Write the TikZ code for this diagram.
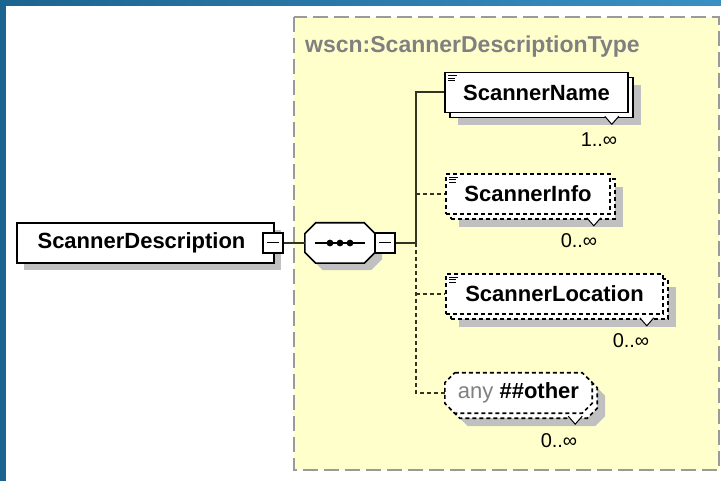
\documentclass[tikz,border=0pt]{standalone}
\usepackage{fontspec}
\newfontfamily\arial{Liberation Sans}
\definecolor{yel}{HTML}{FFFFCC}
\definecolor{bord}{HTML}{9A9A9A}
\definecolor{shad}{HTML}{C0C0C0}
\definecolor{blueA}{HTML}{1C6490}
\definecolor{blueB}{HTML}{3A90C4}
\definecolor{lin}{HTML}{333322}
\definecolor{typegray}{HTML}{808080}
\newcommand\octo[3]{% node name, chamfer, draw options
  \path[#3] ([xshift=#2]#1.north west) -- ([xshift=-#2]#1.north east) -- ([yshift=-#2]#1.north east)
   -- ([yshift=#2]#1.south east) -- ([xshift=-#2]#1.south east) -- ([xshift=#2]#1.south west)
   -- ([yshift=#2]#1.south west) -- ([yshift=-#2]#1.north west) -- cycle;}
\begin{document}
\begin{tikzpicture}[x=1pt,y=-1pt,
  every node/.style={font=\arial},
  ebox/.style={draw=black, line width=1.6pt, fill=white, inner sep=0pt, minimum height=40pt},
  eboxd/.style={ebox, dash pattern=on 4pt off 3pt},
  frame/.style={draw=none, fill=none, inner sep=0pt, minimum height=40pt},
  solidline/.style={draw=black, line width=1.6pt, fill=white},
  dashline/.style={solidline, dash pattern=on 4pt off 3pt},
  shadowfill/.style={fill=shad, draw=none},
  shadowbox/.style={fill=shad, draw=none, inner sep=0pt, minimum height=40pt},
  ename/.style={font=\arial\bfseries\fontsize{22}{24}\selectfont},
  mult/.style={font=\arial\fontsize{20}{22}\selectfont, anchor=base, inner sep=0pt},
  conn/.style={draw=lin, line width=2pt},
  connd/.style={conn, dash pattern=on 4pt off 3pt},
  mbox/.style={draw=black, line width=1.6pt, fill=white, minimum size=20pt, inner sep=0pt},
  chev/.style={draw=black, line width=1pt, fill=white},
  icon/.style={draw=black, line width=0.8pt},
]
\useasboundingbox (0,0) rectangle (721,481);
\fill[white] (0,0) rectangle (721,481);
\shade[left color=blueA, right color=blueB] (0,0) rectangle (721,6);
\fill[blueA] (0,0) rectangle (6,481);
% type container
\draw[bord, fill=yel, line width=1.6pt, dash pattern=on 15pt off 6pt] (294,17) rectangle (719,470);
\node[anchor=base west, inner sep=0pt, text=typegray, font=\arial\bfseries\fontsize{23}{25}\selectfont] (tl) at (305,52.5) {wscn:ScannerDescriptionType};

% ScannerDescription
\fill[shad] (24,230) rectangle (281,270);
\node[ebox, minimum width=257pt] (sd) at (145.5,243) {};
\node[ename, inner sep=0pt] (sdt) at (141.5,243) {ScannerDescription};
\node[mbox] (sdm) at (273,243) {};
\draw[line width=1pt] ([xshift=-6pt]sdm.center) -- ([xshift=6pt]sdm.center);

% sequence compositor
\node[frame, minimum width=70pt] (seqs) at (347,250) {};
\node[frame, minimum width=70pt] (seq) at (340,243) {};
\octo{seqs}{11pt}{shadowfill}
\octo{seq}{11pt}{solidline}
\draw[line width=1.4pt] ([xshift=-25pt]seq.center) -- ([xshift=25pt]seq.center);
\foreach \dx in {-10,0,10} \fill ([xshift=\dx pt]seq.center) circle (3.4pt);
\node[mbox] (seqm) at (385,243) {};
\draw[line width=1pt] ([xshift=-6pt]seqm.center) -- ([xshift=6pt]seqm.center);

% bus coordinates
\coordinate (b1) at (416,92.5);
\coordinate (bm) at (416,243);
\coordinate (b2) at (416,194);
\coordinate (b3) at (416,294);
\coordinate (b4) at (416,393);

% ScannerName (1..inf)
\node[shadowbox, minimum width=183pt] (n1s) at (549.5,105.5) {};
\node[ebox, minimum width=183pt] (n1b) at (541.5,97.5) {};
\node[ebox, minimum width=183pt, ename] (n1) at (536.5,92.5) {ScannerName};
\draw[chev] ([xshift=-29pt,yshift=2pt]n1b.south east) -- ([xshift=-22pt,yshift=-6pt]n1b.south east) -- ([xshift=-15pt,yshift=2pt]n1b.south east);
\foreach \dy/\w in {4/9,6.5/7,9/7} \draw[icon] ([xshift=4pt,yshift=-\dy pt]n1.north west) -- ++(\w,0);
\node[mult] (m1) at (599,147) {1..∞};

% ScannerInfo (0..inf)
\node[shadowbox, minimum width=164pt] (n2s) at (541,207) {};
\node[eboxd, minimum width=164pt] (n2b) at (533,199) {};
\node[eboxd, minimum width=164pt, ename] (n2) at (528,194) {ScannerInfo};
\draw[chev] ([xshift=-29pt,yshift=2pt]n2b.south east) -- ([xshift=-22pt,yshift=-6pt]n2b.south east) -- ([xshift=-15pt,yshift=2pt]n2b.south east);
\foreach \dy/\w in {4/9,6.5/7,9/7} \draw[icon] ([xshift=4pt,yshift=-\dy pt]n2.north west) -- ++(\w,0);
\node[mult] (m2) at (579,248) {0..∞};

% ScannerLocation (0..inf)
\node[shadowbox, minimum width=217pt] (n3s) at (567.5,307) {};
\node[eboxd, minimum width=217pt] (n3b) at (559.5,299) {};
\node[eboxd, minimum width=217pt, ename] (n3) at (554.5,294) {ScannerLocation};
\draw[chev] ([xshift=-29pt,yshift=2pt]n3b.south east) -- ([xshift=-22pt,yshift=-6pt]n3b.south east) -- ([xshift=-15pt,yshift=2pt]n3b.south east);
\foreach \dy/\w in {4/9,6.5/7,9/7} \draw[icon] ([xshift=4pt,yshift=-\dy pt]n3.north west) -- ++(\w,0);
\node[mult] (m3) at (631,348) {0..∞};

% any ##other (0..inf)
\node[frame, minimum width=147pt] (n4s) at (531.5,406) {};
\node[frame, minimum width=147pt] (n4b) at (523.5,398) {};
\node[frame, minimum width=147pt] (n4f) at (518.5,393) {};
\octo{n4s}{10pt}{shadowfill}
\octo{n4b}{10pt}{dashline}
\octo{n4f}{10pt}{dashline}
\node[inner sep=0pt, font=\arial\fontsize{22}{24}\selectfont] (n4) at (n4f.center) {\textcolor{typegray}{any} \textbf{\#\#other}};
\draw[chev] ([xshift=-29pt,yshift=2pt]n4b.south east) -- ([xshift=-22pt,yshift=-6pt]n4b.south east) -- ([xshift=-15pt,yshift=2pt]n4b.south east);
\node[mult] (m4) at (559,447) {0..∞};

% connectors
\draw[conn] (sdm.east) -- (seq.west);
\draw[conn] (seqm.east) -- (bm);
\draw[conn] (bm) -- (b1) -- (n1.west);
\draw[connd] (bm) -- (b4) -- (n4f.west);
\draw[connd] (b2) -- (n2.west);
\draw[connd] (b3) -- (n3.west);
\end{tikzpicture}
\end{document}
